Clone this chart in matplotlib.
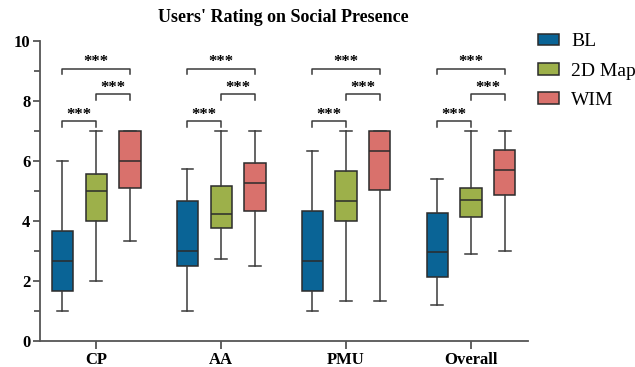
import matplotlib
matplotlib.use("Agg")
import matplotlib.pyplot as plt
from matplotlib.patches import Patch
import numpy as np

plt.rcParams['font.family'] = ['Liberation Serif', 'DejaVu Serif']

categories = ["CP", "AA", "PMU", "Overall"]
groups = ["BL", "2D Map", "WIM"]
colors = ["#0a6496", "#9db04a", "#d9716c"]

# per group: lists over categories
whislo = {
    "BL":     [1.0, 1.0, 1.0, 1.2],
    "2D Map": [2.0, 2.75, 1.33, 2.9],
    "WIM":    [3.33, 2.5, 1.33, 3.0],
}
q1 = {
    "BL":     [1.67, 2.5, 1.67, 2.12],
    "2D Map": [4.0, 3.77, 4.0, 4.14],
    "WIM":    [5.1, 4.33, 5.03, 4.86],
}
med = {
    "BL":     [2.67, 3.0, 2.67, 2.96],
    "2D Map": [5.0, 4.25, 4.67, 4.7],
    "WIM":    [6.0, 5.26, 6.33, 5.71],
}
q3 = {
    "BL":     [3.67, 4.67, 4.33, 4.26],
    "2D Map": [5.57, 5.18, 5.66, 5.09],
    "WIM":    [7.0, 5.93, 7.0, 6.38],
}
whishi = {
    "BL":     [6.0, 5.75, 6.33, 5.4],
    "2D Map": [7.0, 7.0, 7.0, 7.0],
    "WIM":    [7.0, 7.0, 7.0, 7.0],
}
sig_labels = ["***", "***", "***"]  # BL-2D, 2D-WIM, BL-WIM

fig = plt.figure(figsize=(6.35, 3.67), dpi=100)
ax = fig.add_axes([0.063, 0.0708, 0.7685, 0.8174])

offset = 0.27
width = 0.17
x = np.arange(len(categories))
edge = "#2b2b2b"

for gi, g in enumerate(groups):
    stats = []
    for ci in range(len(categories)):
        stats.append(dict(med=med[g][ci], q1=q1[g][ci], q3=q3[g][ci],
                          whislo=whislo[g][ci], whishi=whishi[g][ci], fliers=[]))
    pos = x + (gi - 1) * offset
    ax.bxp(stats, positions=pos, widths=width, capwidths=width * 0.55,
           showfliers=False, patch_artist=True,
           boxprops=dict(facecolor=colors[gi], edgecolor=edge, linewidth=1.1),
           medianprops=dict(color=edge, linewidth=1.1),
           whiskerprops=dict(color="#3a3a3a", linewidth=1.1),
           capprops=dict(color="#3a3a3a", linewidth=1.1),
           manage_ticks=False)

# significance brackets
def bracket(x0, x1, y, label, tick=0.17):
    ax.plot([x0, x0, x1, x1], [y - tick, y, y, y - tick], color="#3a3a3a", lw=1.1,
            clip_on=False)
    ax.text((x0 + x1) / 2, y + 0.22, label, ha="center", va="center",
            fontsize=12, fontweight="bold")

for ci in range(len(categories)):
    bracket(x[ci] - offset, x[ci], 7.32, sig_labels[0])
    bracket(x[ci], x[ci] + offset, 8.22, sig_labels[1])
    bracket(x[ci] - offset, x[ci] + offset, 9.07, sig_labels[2])

ax.set_xlim(-0.45, 3.456)
ax.set_ylim(0, 10)
ax.set_xticks(x)
ax.set_xticklabels(categories, fontsize=12, fontweight="bold")
ax.set_yticks([0, 2, 4, 6, 8, 10])
ax.set_yticklabels(["0", "2", "4", "6", "8", "10"], fontsize=12, fontweight="bold")
ax.set_yticks([1, 3, 5, 7, 9], minor=True)
for s in ["top", "right"]:
    ax.spines[s].set_visible(False)
for s in ["left", "bottom"]:
    ax.spines[s].set_color("#555555")
    ax.spines[s].set_linewidth(1.3)
ax.tick_params(axis="both", which="major", length=5, width=1.3, color="#555555", pad=2)
ax.tick_params(axis="y", which="minor", length=4, width=1.3, color="#555555")
ax.tick_params(axis="x", length=6, pad=2)

fig.text(0.446, 0.953, "Users' Rating on Social Presence", ha="center", va="center",
         fontsize=13, fontweight="bold")

handles = [Patch(facecolor=c, edgecolor=edge, linewidth=1.1) for c in colors]
leg = fig.legend(handles, groups, loc="upper left", bbox_to_anchor=(0.835, 0.93),
                 frameon=False, fontsize=14, handlelength=1.1, handleheight=0.55,
                 labelspacing=0.62, handletextpad=0.6, borderaxespad=0)

fig.savefig("out.png", dpi=100)
